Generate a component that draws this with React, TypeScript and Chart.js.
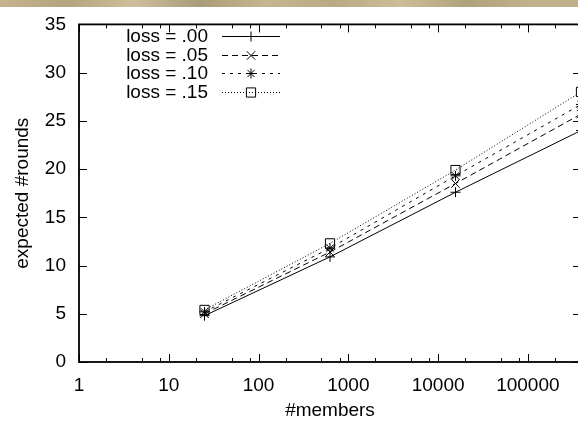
import React, { useEffect, useRef } from "react";
import { Chart, registerables } from "chart.js";

Chart.register(...registerables);

// ---- data ----
const members = [25, 625, 15625, 390625];
const seriesLabels = ["loss = .00", "loss = .05", "loss = .10", "loss = .15"];
const loss00 = [4.8, 10.9, 17.6, 24.0];
const loss05 = [5.0, 11.4, 18.5, 25.7];
const loss10 = [5.2, 11.8, 19.3, 26.7];
const loss15 = [5.4, 12.3, 19.9, 28.0];
const xMajorTicks = [1, 10, 100, 1000, 10000, 100000];
const xMinorTicks = [2, 5, 8, 20, 50, 80, 200, 500, 800, 2000, 5000, 8000, 20000, 50000, 80000, 200000];
const yTicks = [0, 5, 10, 15, 20, 25, 30, 35];
const X_MIN = 1;
const X_MAX = 390625;
const Y_MIN = 0;
const Y_MAX = 35;

const FONT_FAMILY = "'Liberation Sans', Arial, Helvetica, sans-serif";
const FONT = { family: FONT_FAMILY, size: 19 };

const styles = [
  { dash: [] as number[], point: "cross", r: 5 },
  { dash: [6, 4], point: "crossRot", r: 6 },
  { dash: [3, 5], point: "star", r: 5 },
  { dash: [1, 2], point: "rect", r: 6.5 },
];

function drawMarker(ctx: CanvasRenderingContext2D, style: string, x: number, y: number, r: number) {
  ctx.beginPath();
  if (style === "cross" || style === "star") {
    ctx.moveTo(x - r, y);
    ctx.lineTo(x + r, y);
    ctx.moveTo(x, y - r);
    ctx.lineTo(x, y + r);
  }
  if (style === "crossRot" || style === "star") {
    const d = r * Math.SQRT1_2;
    ctx.moveTo(x - d, y - d);
    ctx.lineTo(x + d, y + d);
    ctx.moveTo(x - d, y + d);
    ctx.lineTo(x + d, y - d);
  }
  if (style === "rect") {
    const s = r * Math.SQRT1_2;
    ctx.rect(x - s, y - s, 2 * s, 2 * s);
  }
  ctx.stroke();
}

const framePlugin = {
  id: "frame",
  beforeDraw(chart: any) {
    const ctx: CanvasRenderingContext2D = chart.ctx;
    ctx.save();
    ctx.fillStyle = "#ffffff";
    ctx.fillRect(0, 0, chart.width, chart.height);
    const g = ctx.createLinearGradient(0, 0, chart.width, 0);
    const cols = ["#c6b48e", "#b3a47f", "#cdbf9b", "#a99c78", "#c4b690", "#b8aa84", "#cbbd98", "#aea27c", "#c2b38c", "#bcae88"];
    cols.forEach((c, i) => g.addColorStop(i / (cols.length - 1), c));
    ctx.fillStyle = g;
    ctx.fillRect(0, 0, chart.width, 7);
    ctx.restore();
  },
  afterDraw(chart: any) {
    const ctx: CanvasRenderingContext2D = chart.ctx;
    const { left, right, top, bottom } = chart.chartArea;
    const xs = chart.scales.x;
    const ys = chart.scales.y;
    ctx.save();
    ctx.strokeStyle = "#000";
    ctx.setLineDash([]);
    ctx.lineWidth = 1;
    const line = (x1: number, y1: number, x2: number, y2: number) => {
      ctx.beginPath();
      ctx.moveTo(x1, y1);
      ctx.lineTo(x2, y2);
      ctx.stroke();
    };
    yTicks.forEach((v) => {
      const py = Math.round(ys.getPixelForValue(v)) + 0.5;
      line(left, py, left + 8, py);
      line(right - 8, py, right, py);
    });
    xMajorTicks.forEach((v) => {
      const px = Math.round(xs.getPixelForValue(v)) + 0.5;
      line(px, bottom, px, bottom - 8);
      line(px, top, px, top + 8);
    });
    xMinorTicks
      .filter((v) => v <= X_MAX)
      .forEach((v) => {
        const px = Math.round(xs.getPixelForValue(v)) + 0.5;
        line(px, bottom, px, bottom - 4);
        line(px, top, px, top + 4);
      });
    ctx.lineWidth = 1.8;
    ctx.strokeRect(left, top, right - left, bottom - top);

    // key
    ctx.font = `${FONT.size}px ${FONT_FAMILY}`;
    ctx.fillStyle = "#000";
    ctx.textAlign = "right";
    ctx.textBaseline = "middle";
    chart.data.datasets.forEach((ds: any, i: number) => {
      const y = 36 + i * 18.6;
      ctx.fillText(ds.label, 208, y + 1);
      ctx.lineWidth = 1;
      ctx.setLineDash(styles[i].dash);
      line(222, Math.round(y) + 0.5, 280, Math.round(y) + 0.5);
      ctx.setLineDash([]);
      drawMarker(ctx, styles[i].point, 251, Math.round(y) + 0.5, styles[i].r);
    });
    ctx.restore();
  },
};

const seriesValues = [loss00, loss05, loss10, loss15];

export default function App() {
  const ref = useRef<HTMLCanvasElement>(null);
  useEffect(() => {
    if (!ref.current) return;
    const chart = new Chart(ref.current, {
      type: "line",
      data: {
        datasets: seriesValues.map((vals, i) => ({
          label: seriesLabels[i],
          data: members.map((m, j) => ({ x: m, y: vals[j] })),
          borderColor: "#000",
          borderWidth: 1,
          borderDash: styles[i].dash,
          pointStyle: styles[i].point as any,
          pointRadius: styles[i].r,
          pointBorderColor: "#000",
          pointBackgroundColor: "rgba(0,0,0,0)",
          pointBorderWidth: 1,
          tension: 0,
          fill: false,
          clip: false as any,
        })),
      },
      options: {
        animation: false,
        responsive: false,
        devicePixelRatio: 1,
        layout: { padding: { top: 16, right: 19, left: 0, bottom: 0 } },
        plugins: { legend: { display: false }, tooltip: { enabled: false } },
        scales: {
          x: {
            type: "logarithmic",
            min: X_MIN,
            max: X_MAX,
            grid: { display: false, drawTicks: false },
            border: { display: false },
            ticks: {
              autoSkip: false,
              maxRotation: 0,
              padding: 12,
              color: "#000",
              font: FONT,
              callback: (v: any) => String(v),
            },
            afterBuildTicks: (s: any) => {
              s.ticks = xMajorTicks.map((v) => ({ value: v }));
            },
            afterFit: (s: any) => {
              s.height = 61;
            },
            title: {
              display: true,
              text: "#members",
              color: "#000",
              font: FONT,
              padding: { top: 0, bottom: 1 },
            },
          },
          y: {
            type: "linear",
            min: Y_MIN,
            max: Y_MAX,
            grid: { display: false, drawTicks: false },
            border: { display: false },
            ticks: {
              stepSize: 5,
              padding: 13,
              color: "#000",
              font: FONT,
            },
            afterBuildTicks: (s: any) => {
              s.ticks = yTicks.map((v) => ({ value: v }));
            },
            afterFit: (s: any) => {
              s.width = 79;
            },
            title: {
              display: true,
              text: "expected #rounds",
              color: "#000",
              font: FONT,
              padding: { top: 11, bottom: 0 },
            },
          },
        },
      },
      plugins: [framePlugin],
    });
    return () => chart.destroy();
  }, []);
  return (
    <div style={{ position: "absolute", left: 0, top: 0, width: 578, height: 423, overflow: "hidden", background: "#fff" }}>
      <canvas ref={ref} width={600} height={423} style={{ display: "block" }} />
    </div>
  );
}
